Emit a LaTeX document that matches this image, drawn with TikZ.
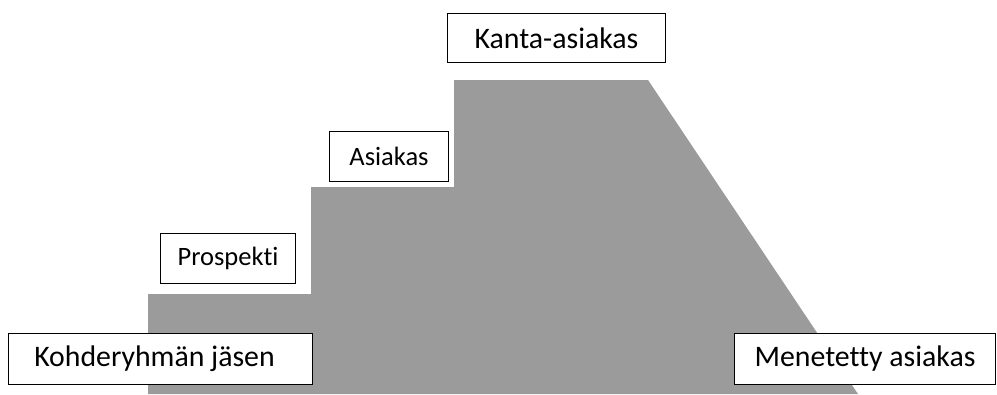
\documentclass[tikz,border=0pt]{standalone}
\usepackage{fontspec}
\setmainfont{Carlito}[Ligatures=NoCommon]

\definecolor{stairgray}{RGB}{155,155,155}

\tikzset{
  stagebox/.style={draw=black, line width=1pt, fill=white, inner sep=0pt,
    align=center, font=\fontsize{29.8}{32}\selectfont},
  smallbox/.style={stagebox, font=\fontsize{26.5}{28}\selectfont}
}

\begin{document}
\begin{tikzpicture}[x=1pt, y=-1pt]

\useasboundingbox (0,0) rectangle (997,394);

% Staircase of the customer relationship
\fill[stairgray] (148,394) -- (148,294) -- (311,294) -- (311,187)
  -- (454,187) -- (454,80) -- (648,80) -- (858,394) -- cycle;

% Stages
\node[stagebox, minimum width=304pt, minimum height=51pt] (target) at (160.5,359) {Kohderyhmän jäsen\hspace*{12pt}};
\node[smallbox, minimum width=135pt, minimum height=50pt] (prospect) at (228,258.5) {Prospekti};
\node[smallbox, minimum width=119pt, minimum height=50pt] (customer) at (389,156.5) {Asiakas};
\node[stagebox, minimum width=218pt, minimum height=49pt] (regular) at (556.5,38) {Kanta-asiakas};
\node[stagebox, minimum width=261pt, minimum height=51pt] (lost) at (865,359) {Menetetty asiakas};

\end{tikzpicture}
\end{document}
